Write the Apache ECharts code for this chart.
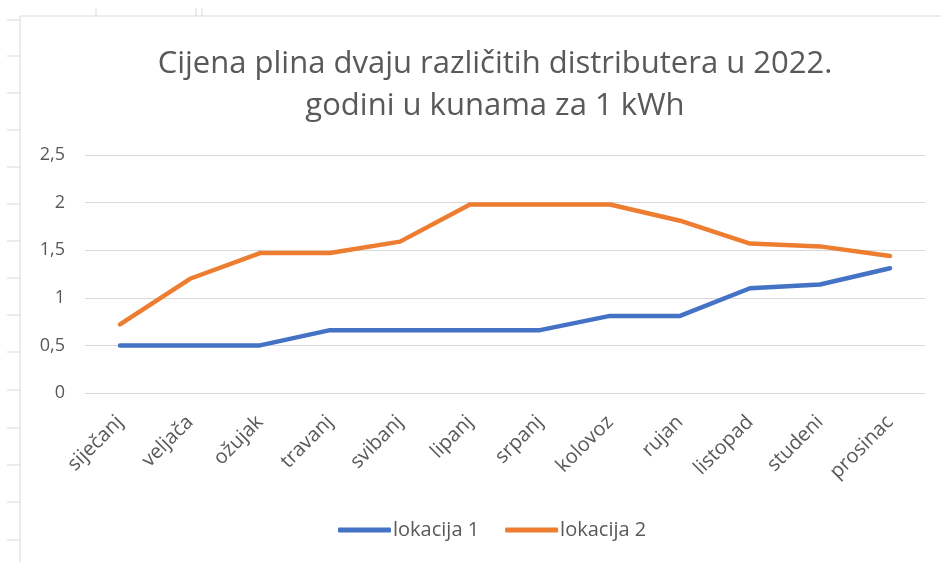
<!DOCTYPE html>
<html>
<head>
<meta charset="utf-8">
<script src="https://cdn.jsdelivr.net/npm/echarts@6/dist/echarts.min.js"></script>
<style>
  html, body { margin: 0; padding: 0; background: #fff; }
  #chart { width: 941px; height: 562px; }
</style>
</head>
<body>
<div id="chart"></div>
<script>
// months (Croatian)
var months = ["siječanj", "veljača", "ožujak", "travanj", "svibanj", "lipanj",
              "srpanj", "kolovoz", "rujan", "listopad", "studeni", "prosinac"];
// price in kn per 1 kWh
var lokacija1 = [0.50, 0.50, 0.50, 0.66, 0.66, 0.66, 0.66, 0.81, 0.81, 1.10, 1.14, 1.31];
var lokacija2 = [0.72, 1.20, 1.47, 1.47, 1.59, 1.98, 1.98, 1.98, 1.81, 1.57, 1.54, 1.44];
var seriesNames = ["lokacija 1", "lokacija 2"];
var titleText = "Cijena plina dvaju različitih distributera u 2022.\ngodini u kunama za 1 kWh";

var textColor = "#595959";
var font = "Open Sans";

// spreadsheet cell marks on the left edge of the screenshot
var sheetMarks = [];
[20, 56, 93, 130, 167, 204, 241, 278, 315, 352, 390, 428, 465, 502, 540].forEach(function (y) {
    sheetMarks.push({ type: "line", shape: { x1: 7, y1: y, x2: 20, y2: y },
        style: { stroke: "#d9d9d9", lineWidth: 1 }, silent: true });
});
[96, 196, 202].forEach(function (x) {
    sheetMarks.push({ type: "line", shape: { x1: x, y1: 8, x2: x, y2: 16 },
        style: { stroke: "#d9d9d9", lineWidth: 1 }, silent: true });
});
// chart area border
sheetMarks.push({ type: "polyline", shape: { points: [[20, 562], [20, 16], [941, 16]] },
    style: { stroke: "#d9d9d9", lineWidth: 1, fill: null }, silent: true });

var chart = echarts.init(document.getElementById("chart"));
chart.setOption({
    animation: false,
    backgroundColor: "#fff",
    color: ["#4472C4", "#ED7D31"],
    textStyle: { fontFamily: font },
    graphic: sheetMarks,
    title: {
        text: titleText,
        left: 490,
        textAlign: "center",
        top: 38,
        textStyle: { fontFamily: font, fontSize: 31, fontWeight: "normal", color: textColor, lineHeight: 42 }
    },
    legend: {
        bottom: 17,
        left: 333,
        itemWidth: 53,
        itemHeight: 5,
        itemGap: 26,
        icon: "roundRect",
        textStyle: { fontFamily: font, fontSize: 20, color: textColor, padding: [0, 0, 0, -3] },
        data: seriesNames
    },
    grid: { left: 85, right: 16, top: 155, bottom: 169, containLabel: false },
    xAxis: {
        type: "category",
        data: months,
        boundaryGap: true,
        axisLine: { show: false },
        axisTick: { show: false },
        axisLabel: { rotate: 45, margin: 26, fontSize: 20, color: textColor, fontFamily: font }
    },
    yAxis: {
        type: "value",
        min: 0,
        max: 2.5,
        interval: 0.5,
        axisLine: { show: false },
        axisTick: { show: false },
        splitLine: { lineStyle: { color: "#d9d9d9", width: 1 } },
        axisLabel: {
            margin: 20, fontSize: 18, color: textColor, fontFamily: font,
            formatter: function (v) { return String(v).replace(".", ","); }
        }
    },
    series: [
        {
            name: seriesNames[0], type: "line", data: lokacija1,
            showSymbol: false, symbol: "none",
            lineStyle: { width: 4.5, cap: "round", join: "round" }
        },
        {
            name: seriesNames[1], type: "line", data: lokacija2,
            showSymbol: false, symbol: "none",
            lineStyle: { width: 4.5, cap: "round", join: "round" }
        }
    ]
});
window.addEventListener("resize", function () { chart.resize(); });
</script>
</body>
</html>
